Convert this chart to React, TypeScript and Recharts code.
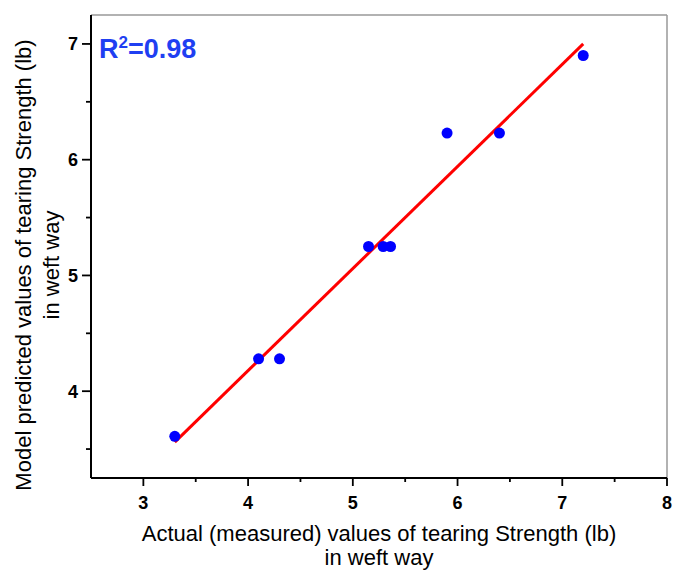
import React from 'react';
import {
  ScatterChart,
  Scatter,
  XAxis,
  YAxis,
  ReferenceLine,
  Label,
  Customized
} from 'recharts';

// measured vs predicted tearing strength (weft)
const actualValues = [3.3, 4.1, 4.3, 5.15, 5.29, 5.36, 5.9, 6.4, 7.2];
const predictedValues = [3.61, 4.28, 4.28, 5.25, 5.25, 5.25, 6.23, 6.23, 6.9];

// fitted line end points
const fitX = [3.3, 7.2];
const fitY = [3.56, 7.0];

const xTicks = [3, 3.5, 4, 4.5, 5, 5.5, 6, 6.5, 7, 7.5, 8];
const yTicks = [3.5, 4, 4.5, 5, 5.5, 6, 6.5, 7];

const points = actualValues.map((x, i) => ({ x, y: predictedValues[i] }));
const fitLine = fitX.map((x, i) => ({ x, y: fitY[i] }));

const FONT = "Arial, 'Liberation Sans', sans-serif";

const XTick = (props: any) => {
  const { x, y, payload } = props;
  const major = Number.isInteger(payload.value);
  return (
    <g>
      <line x1={x} x2={x} y1={y} y2={y + (major ? 8 : 4)} stroke="#000" strokeWidth={1.8} />
      {major && (
        <text x={x} y={y + 31} textAnchor="middle" fontFamily={FONT} fontWeight="bold" fontSize={18} fill="#000">
          {payload.value}
        </text>
      )}
    </g>
  );
};

const YTick = (props: any) => {
  const { x, y, payload } = props;
  const major = Number.isInteger(payload.value);
  return (
    <g>
      <line x1={x - (major ? 9 : 5)} x2={x} y1={y} y2={y} stroke="#000" strokeWidth={1.8} />
      {major && (
        <text x={x - 13} y={y + 6.5} textAnchor="end" fontFamily={FONT} fontWeight="bold" fontSize={18} fill="#000">
          {payload.value}
        </text>
      )}
    </g>
  );
};

const XTitle = () => (
  <text x={379} y={541} textAnchor="middle" fontFamily={FONT} fontSize={22} fill="#000">
    <tspan x={379}>Actual (measured) values of tearing Strength (lb)</tspan>
    <tspan x={379} dy={24}>in weft way</tspan>
  </text>
);

const YTitle = () => (
  <text transform="translate(31, 265) rotate(-90)" textAnchor="middle" fontFamily={FONT} fontSize={22} fill="#000">
    <tspan x={0} y={0}>Model predicted values of tearing Strength (lb)</tspan>
    <tspan x={0} dy={28}>in weft way</tspan>
  </text>
);

const RSquared = () => (
  <text x={99} y={58} fontFamily={FONT} fontWeight="bold" fontSize={27} fill="#1f3ff2">
    R<tspan fontSize={17} dy={-10}>2</tspan><tspan dy={10}>=0.98</tspan>
  </text>
);

const App: React.FC = () => {
  return (
    <div style={{ position: 'absolute', left: 0, top: 0, background: '#fff' }}>
      <ScatterChart width={673} height={570} margin={{ top: 15, right: 6, bottom: 0, left: 0 }}>
        <XAxis
          type="number"
          dataKey="x"
          domain={[2.5, 8]}
          ticks={xTicks}
          interval={0}
          tickSize={0}
          tickMargin={0}
          tick={<XTick />}
          height={92}
          axisLine={{ stroke: '#000', strokeWidth: 2 }}
          allowDataOverflow
        >
          <Label content={<XTitle />} />
        </XAxis>
        <YAxis
          type="number"
          dataKey="y"
          domain={[3.25, 7.25]}
          ticks={yTicks}
          interval={0}
          tickSize={0}
          tickMargin={0}
          tick={<YTick />}
          width={91}
          axisLine={{ stroke: '#000', strokeWidth: 2 }}
          allowDataOverflow
        >
          <Label content={<YTitle />} />
        </YAxis>
        <ReferenceLine y={7.25} stroke="#999" strokeWidth={1.5} />
        <ReferenceLine x={8} stroke="#999" strokeWidth={1.5} />
        <Scatter
          data={fitLine}
          line={{ stroke: '#ff0000', strokeWidth: 3 }}
          shape={() => <g />}
          isAnimationActive={false}
        />
        <Scatter
          data={points}
          shape={(p: any) => <circle cx={p.cx} cy={p.cy} r={5.5} fill="#0000ff" />}
          isAnimationActive={false}
        />
        <Customized component={RSquared} />
      </ScatterChart>
    </div>
  );
};

export default App;
